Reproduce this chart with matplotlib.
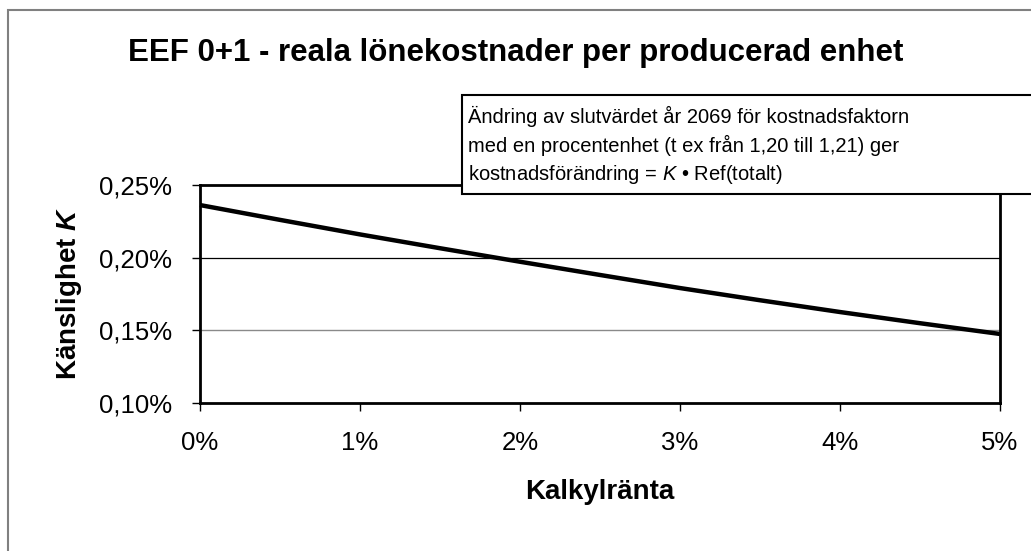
import matplotlib

matplotlib.use("Agg")
import matplotlib.pyplot as plt
from matplotlib.patches import Rectangle

plt.rcParams["font.family"] = ["Liberation Sans", "DejaVu Sans"]
plt.rcParams["mathtext.fontset"] = "custom"
plt.rcParams["mathtext.it"] = "Liberation Sans:italic"
plt.rcParams["mathtext.rm"] = "Liberation Sans"
plt.rcParams["mathtext.bfit"] = "Liberation Sans:italic:bold"

# Kalkylränta (%) and känslighet K (%)
rate = [0.0, 0.5, 1.0, 1.5, 2.0, 2.5, 3.0, 3.5, 4.0, 4.5, 5.0]
sens = [0.2362, 0.2260, 0.2160, 0.2065, 0.1972, 0.1881, 0.1791, 0.1707, 0.1626, 0.1549, 0.1475]

x_ticks = [0, 1, 2, 3, 4, 5]
x_labels = ["0%", "1%", "2%", "3%", "4%", "5%"]
y_ticks = [0.10, 0.15, 0.20, 0.25]
y_labels = ["0,10%", "0,15%", "0,20%", "0,25%"]

title = "EEF 0+1 - reala lönekostnader per producerad enhet"
note = ["Ändring av slutvärdet år 2069 för kostnadsfaktorn",
        "med en procentenhet (t ex från 1,20 till 1,21) ger",
        "kostnadsförändring = $K$ • Ref(totalt)"]

W, H = 1031, 551
fig = plt.figure(figsize=(W / 100, H / 100), dpi=100)
ax = fig.add_axes([200 / W, 1 - 403 / H, 800 / W, 218 / H])

ax.plot(rate, sens, color="black", lw=3.2, solid_capstyle="butt", zorder=3, clip_on=False)
ax.axhline(0.20, color="black", lw=0.9, zorder=1)
ax.axhline(0.15, color="#8a8a8a", lw=1.0, zorder=1)

ax.set_xlim(0, 5)
ax.set_ylim(0.10, 0.25)
ax.set_xticks(x_ticks)
ax.set_xticklabels(x_labels, fontsize=18.5)
ax.set_yticks(y_ticks)
ax.set_yticklabels(y_labels, fontsize=18.5)
ax.tick_params(axis="x", direction="out", length=6, width=1, pad=14)
ax.tick_params(axis="y", direction="out", length=6, width=1, pad=14)
for s in ax.spines.values():
    s.set_linewidth(2)
    s.set_color("black")

fig.text(600 / W, 1 - 492 / H, "Kalkylränta", ha="center", va="center",
         fontsize=20, fontweight="bold")
fig.text(69 / W, 1 - 293 / H, "Känslighet $\\mathbfit{K}$", ha="center", va="center",
         rotation=90, fontsize=20, fontweight="bold")

fig.text(0.5, 1 - 53 / H, title, ha="center", va="center", fontsize=22.5, fontweight="bold")

# outer chart frame (runs past the right and bottom edges)
fig.add_artist(Rectangle((8 / W, -0.05), 1.1, 1 - 10 / H + 0.05, transform=fig.transFigure,
                         fill=False, edgecolor="#808080", lw=1.5, zorder=0))

# note box in the upper right, on top of the plot area
fig.add_artist(Rectangle((462 / W, 1 - 194 / H), 0.6, 99 / H, transform=fig.transFigure,
                         facecolor="white", edgecolor="black", lw=1.5, zorder=5))
for i, line in enumerate(note):
    fig.text(468 / W, 1 - (116 + 29 * i) / H, line, ha="left", va="center",
             fontsize=14.5, zorder=6)

fig.savefig("out.png", dpi=100)
